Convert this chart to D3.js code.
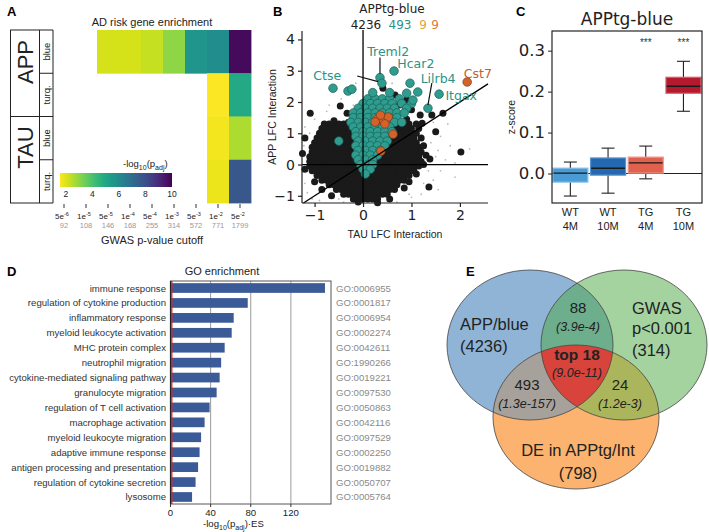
<!DOCTYPE html>
<html><head><meta charset="utf-8">
<script src="https://cdn.jsdelivr.net/npm/d3@7"></script>
<style>body{margin:0;background:#fff}svg{display:block}</style>
</head><body>
<svg id="c" width="709" height="532"></svg>
<script>
// ---------------- DATA ----------------
// Panel A
const heatRows = ["APP blue","APP turq.","TAU blue","TAU turq."];
const heatCutoffs = ["5e-6","1e-5","5e-5","1e-4","5e-4","1e-3","5e-3","1e-2","5e-2"];
const heatCounts = [92,108,146,168,255,314,572,771,1799];
const heatAppBlue = [null,null,2.1,2.1,2.3,3.0,5.6,5.9,9.8];
const heatAppTurq = [null,null,null,null,null,null,null,1.6,4.9];
const heatTauBlue = [null,null,null,null,null,null,null,1.7,2.6];
const heatTauTurq = [null,null,null,null,null,null,null,1.8,7.7];
const colorbarTicks = [2,4,6,8,10];
// Panel B (TAU LFC, APP LFC)
const blackRows = [
 [1.3,[-0.8,-0.7,-0.6,-0.5,-0.4,0.65,0.75,0.85,0.95]],
 [1.15,[-0.85,-0.75,-0.65,-0.55,-0.45,-0.35,-0.25,0.6,0.7,0.8,0.9,1.0]],
 [1.0,[-0.9,-0.8,-0.7,-0.6,-0.5,-0.4,-0.3,-0.2,0.5,0.6,0.7,0.8,0.9,1.0,1.1]],
 [0.85,[-0.95,-0.85,-0.75,-0.65,-0.55,-0.45,-0.35,-0.25,-0.15,0.45,0.55,0.65,0.75,0.85,0.95,1.05]],
 [0.7,[-1.0,-0.9,-0.8,-0.7,-0.6,-0.5,-0.4,-0.3,-0.2,-0.1,0.4,0.5,0.6,0.7,0.8,0.9,1.0,1.1]],
 [0.55,[-1.05,-0.95,-0.85,-0.75,-0.65,-0.55,-0.45,-0.35,-0.25,-0.15,0.35,0.45,0.55,0.65,0.75,0.85,0.95,1.05,1.15]],
 [0.4,[-1.05,-0.95,-0.85,-0.75,-0.65,-0.55,-0.45,-0.35,-0.25,-0.15,0.3,0.4,0.5,0.6,0.7,0.8,0.9,1.0,1.1,1.2]],
 [0.25,[-1.1,-1.0,-0.9,-0.8,-0.7,-0.6,-0.5,-0.4,-0.3,-0.2,0.25,0.35,0.45,0.55,0.65,0.75,0.85,0.95,1.05,1.15]],
 [0.1,[-1.1,-1.0,-0.9,-0.8,-0.7,-0.6,-0.5,-0.4,-0.3,-0.2,0.2,0.3,0.4,0.5,0.6,0.7,0.8,0.9,1.0,1.1,1.2]],
 [-0.05,[-1.1,-1.0,-0.9,-0.8,-0.7,-0.6,-0.5,-0.4,-0.3,-0.2,-0.1,0.25,0.35,0.45,0.55,0.65,0.75,0.85,0.95,1.05,1.15]],
 [-0.2,[-1.05,-0.95,-0.85,-0.75,-0.65,-0.55,-0.45,-0.35,-0.25,-0.15,-0.05,0.05,0.15,0.25,0.35,0.45,0.55,0.65,0.75,0.85,0.95,1.05]],
 [-0.35,[-0.95,-0.85,-0.75,-0.65,-0.55,-0.45,-0.35,-0.25,-0.15,-0.05,0.05,0.15,0.25,0.35,0.45,0.55,0.65,0.75,0.85,0.95]],
 [-0.5,[-0.85,-0.75,-0.65,-0.55,-0.45,-0.35,-0.25,-0.15,-0.05,0.05,0.15,0.25,0.35,0.45,0.55,0.65,0.75,0.85]],
 [-0.65,[-0.7,-0.6,-0.5,-0.4,-0.3,-0.2,-0.1,0.0,0.1,0.2,0.3,0.4,0.5,0.6,0.7]],
 [-0.8,[-0.55,-0.45,-0.35,-0.25,-0.15,-0.05,0.05,0.15,0.25,0.35,0.45,0.55,0.65]],
 [-0.95,[-0.4,-0.3,-0.2,-0.1,0.0,0.1,0.2,0.3,0.4,0.5]],
 [-1.1,[-0.2,-0.1,0.0,0.1,0.2,0.3]]
];
const blackScatter = [[-1.09,1.64],[-0.47,1.87],[-0.33,1.64],[-0.82,1.17],[-1.2,0.85],[-1.25,0.35],[-1.2,-0.15],[-1.0,-0.55],[-0.85,-0.8],[-0.65,-1.0],[0.55,-1.1],[0.85,-0.75],[0.95,-0.55],[1.1,-0.3],[1.25,0.0],[1.3,0.3],[1.25,0.6],[1.2,0.85],[1.15,1.15],[1.1,1.3],[0.41,2.44],[0.66,2.22],[0.9,2.06],[0.75,1.9],[1.0,1.75],[1.18,1.58],[1.42,1.58],[1.65,1.64],[1.22,1.32],[1.38,0.18],[1.36,-0.72],[2.02,0.4],[1.5,1.05],[-0.6,1.4],[-0.3,1.35],[0.6,1.45],[0.9,1.45],[0.3,-1.22],[-0.1,-1.2]];
const greyPts = [[-1.15,-0.9],[-1.05,-1.1],[-0.9,-1.15],[-1.2,1.2],[-1.0,1.45],[-0.75,1.7],[-0.9,0.2],[-0.4,-1.2],[0.7,-1.2],[1.0,-1.05],[1.2,-0.95],[1.45,-0.5],[1.6,-0.2],[1.7,0.15],[1.55,0.45],[1.8,0.6],[1.6,0.9],[1.75,1.3],[1.45,1.35],[1.3,1.7],[0.9,1.65],[1.9,0.05],[2.2,0.5],[1.5,0.25],[1.4,0.7],[1.35,-0.2],[0.95,-0.95],[-0.5,-1.1],[-1.2,-0.6],[-1.22,0.6],[-1.1,1.0],[-0.7,1.9],[-0.2,1.9],[-0.45,2.1],[1.25,-0.6],[1.9,-0.4],[1.55,-0.8],[0.6,2.6],[-0.15,2.6],[1.05,0.1]];
const tealRows = [
 [2.1,[0.1,0.25,0.4,0.55,0.75]],
 [1.95,[0.0,0.15,0.3,0.45,0.6,0.8,1.0]],
 [1.8,[-0.1,0.05,0.2,0.35,0.5,0.65,0.9]],
 [1.65,[-0.2,-0.05,0.1,0.25,0.4,0.55,0.7,0.85]],
 [1.5,[-0.2,-0.05,0.1,0.25,0.4,0.55,0.7]],
 [1.35,[-0.25,-0.1,0.05,0.2,0.35,0.5,0.65,0.8]],
 [1.2,[-0.2,-0.05,0.1,0.25,0.4,0.55]],
 [1.05,[-0.15,0.0,0.15,0.3,0.45,0.6]],
 [0.9,[-0.15,0.0,0.15,0.3,0.45]],
 [0.75,[-0.1,0.05,0.2,0.35,0.5]],
 [0.6,[-0.15,0.0,0.15,0.3,0.45]],
 [0.45,[-0.1,0.05,0.2,0.35]],
 [0.3,[-0.15,0.0,0.15,0.3]],
 [0.15,[-0.1,0.05,0.2]],
 [0.0,[-0.05,0.1,0.2]],
 [-0.15,[0.0,0.15]],
 [-0.3,[0.05]]
];
const tealScatter = [[-0.62,2.44],[-0.31,2.35],[-0.23,2.41],[0.35,2.78],[0.39,2.6],[0.64,2.99],[0.97,2.6],[1.57,2.25],[1.34,1.8],[1.13,2.32],[1.03,2.06],[0.9,2.28],[0.55,2.3],[-0.5,0.75],[0.2,2.3]];
const orangePts = [[0.31,1.48],[0.41,1.42],[0.52,1.52],[0.25,1.36],[0.62,0.97],[0.37,0.43],[0.45,1.3],[0.36,1.58],[2.15,2.64]];
const geneLabels = [
 {name:"Treml2", px:0.35, py:2.78, lx:0.52, ly:3.62, anchor:"middle", col:"teal", lead:[[0.35,3.42],[0.35,2.9]]},
 {name:"Ctse", px:0.39, py:2.6, lx:-0.74, ly:2.84, anchor:"middle", col:"teal", lead:[[-0.12,2.83],[0.31,2.65]]},
 {name:"Hcar2", px:0.97, py:2.6, lx:1.09, ly:3.24, anchor:"middle", col:"teal", lead:null},
 {name:"Lilrb4", px:1.34, py:1.8, lx:1.55, ly:2.76, anchor:"middle", col:"teal", lead:[[1.42,2.6],[1.34,1.9]]},
 {name:"Itgax", px:1.57, py:2.25, lx:1.7, ly:2.2, anchor:"start", col:"teal", lead:null},
 {name:"Cst7", px:2.15, py:2.64, lx:2.37, ly:2.92, anchor:"middle", col:"orange", lead:null}
];
const countLabels = [["4236","#222"],["493","#2a9486"],["9","#e6a23c"],["9","#e07b35"]];
// Panel C
const boxGroups = ["WT 4M","WT 10M","TG 4M","TG 10M"];
const boxQ1 = [-0.021,-0.004,0.001,0.196];
const boxMed = [0.001,0.013,0.026,0.213];
const boxQ3 = [0.013,0.038,0.040,0.235];
const boxLo = [-0.055,-0.048,-0.013,0.152];
const boxHi = [0.028,0.062,0.067,0.274];
const boxSig = ["","","***","***"];
const boxFill = ["#4a9ad4","#2468b2","#e0614d","#b5192e"];
const boxEdge = ["#86bde6","#5c93cc","#f0968a","#d4606d"];
// Panel D
const goTerms = ["immune response","regulation of cytokine production","inflammatory response","myeloid leukocyte activation","MHC protein complex","neutrophil migration","cytokine-mediated signaling pathway","granulocyte migration","regulation of T cell activation","macrophage activation","myeloid leukocyte migration","adaptive immune response","antigen processing and presentation","regulation of cytokine secretion","lysosome"];
const goIds = ["GO:0006955","GO:0001817","GO:0006954","GO:0002274","GO:0042611","GO:1990266","GO:0019221","GO:0097530","GO:0050863","GO:0042116","GO:0097529","GO:0002250","GO:0019882","GO:0050707","GO:0005764"];
const goScores = [154,77,63,61,54,50.5,49,46,39,34,30.5,29,27.5,25,21.5];
const goTicks = [0,40,80,120];
const goThreshold = 1.3;
// Panel E
const vennSets = [["APP/blue","(4236)"],["GWAS","p<0.001","(314)"],["DE in APPtg/Int","(798)"]];
const vennPairs = [["88","(3.9e-4)"],["493","(1.3e-157)"],["24","(1.2e-3)"]];
const vennCenter = ["top 18","(9.0e-11)"];

// ---------------- DRAW ----------------
const svg = d3.select("#c");
svg.append("rect").attr("width",709).attr("height",532).attr("fill","#fff");
const SANS = "'Liberation Sans', Arial, sans-serif";
const DJ = "'DejaVu Sans', sans-serif";
const defs = svg.append("defs");

function txt(g,s,x,y,o={}){
  const t=g.append("text").attr("x",x).attr("y",y).attr("font-family",o.ff||SANS)
   .attr("font-size",o.fs||11).attr("fill",o.fill||"#222").attr("text-anchor",o.anchor||"start");
  if(o.fw) t.attr("font-weight",o.fw);
  if(o.fst) t.attr("font-style",o.fst);
  if(o.rot!=null) t.attr("transform",`rotate(${o.rot},${x},${y})`);
  if(o.db) t.attr("dominant-baseline",o.db);
  t.text(s); return t;
}
[["A",7,16],["B",273,16],["C",516,16],["D",7,276],["E",466,276]].forEach(d=>txt(svg,d[0],d[1],d[2],{fs:13,fw:"bold",fill:"#000"}));

// ===== Panel A =====
const gA = svg.append("g");
const hx = d3.scaleBand().domain(heatCutoffs).range([53,251]);
const hy = d3.scaleBand().domain(heatRows).range([30,203]);
const heatVals = [heatAppBlue,heatAppTurq,heatTauBlue,heatTauTurq];
const vmin=1.55, vmax=10;
const hcol = v => d3.interpolateViridis(1-(v-vmin)/(vmax-vmin));
heatRows.forEach((r,i)=>heatVals[i].forEach((v,j)=>{
  if(v==null) return;
  gA.append("rect").attr("x",hx(heatCutoffs[j])).attr("y",hy(r))
    .attr("width",hx.bandwidth()+0.4).attr("height",hy.bandwidth()+0.4).attr("fill",hcol(v));
}));
txt(gA,"AD risk gene enrichment",152,26,{fs:11,anchor:"middle"});
const ln=(g,x1,y1,x2,y2,c="#222",w=1)=>g.append("line").attr("x1",x1).attr("y1",y1).attr("x2",x2).attr("y2",y2).attr("stroke",c).attr("stroke-width",w);
[10.5,39.5,53].forEach(x=>ln(gA,x,30,x,203));
[30,hy("TAU blue"),203].forEach(y=>ln(gA,10,y,53,y));
[hy("APP turq."),hy("TAU turq.")].forEach(y=>ln(gA,39.5,y,53,y));
txt(gA,"APP",33,hy("APP blue")+32,{fs:22,anchor:"middle",rot:-90});
txt(gA,"TAU",33,hy("TAU blue")+31,{fs:22,anchor:"middle",rot:-90});
heatRows.forEach(r=>txt(gA,r.split(" ")[1],50,hy(r)+hy.bandwidth()/2,{fs:9.5,anchor:"middle",rot:-90}));
const cb = d3.scaleLinear().domain([vmin,vmax]).range([60,172]);
const grad = defs.append("linearGradient").attr("id","vir").attr("x1","0").attr("x2","1").attr("y1","0").attr("y2","0");
d3.range(0,1.0001,0.05).forEach(t=>grad.append("stop").attr("offset",t).attr("stop-color",hcol(vmin+t*(vmax-vmin))));
gA.append("rect").attr("x",cb(vmin)).attr("y",173).attr("width",cb(vmax)-cb(vmin)).attr("height",14).attr("fill","url(#vir)");
colorbarTicks.forEach(v=>txt(gA,v,cb(v),197,{fs:8.5,anchor:"middle"}));
{const t=txt(gA,"-log",123,167,{fs:9.5});
 t.append("tspan").attr("dy",2.5).attr("font-size",7).text("10");
 t.append("tspan").attr("dy",-2.5).text("(p");
 t.append("tspan").attr("dy",2.5).attr("font-size",7).text("adj");
 t.append("tspan").attr("dy",-2.5).text(")");}
heatCutoffs.forEach((c,j)=>{
  const x=hx(c)+hx.bandwidth()/2;
  ln(gA,x,204,x,208,"#333");
  const p=c.split("e");
  const t=txt(gA,p[0]+"e",x-2,219,{fs:8,anchor:"middle"});
  t.append("tspan").attr("dy",-3.5).attr("font-size",5.5).text(p[1]);
  txt(gA,heatCounts[j],x,228,{fs:7.5,anchor:"middle",fill:"#999"});
});
txt(gA,"GWAS p-value cutoff",152,244,{fs:11,anchor:"middle"});

// ===== Panel B =====
const gB = svg.append("g");
const bx = d3.scaleLinear().domain([-1.26,2.58]).range([302,488]);
const by = d3.scaleLinear().domain([-1.23,4.27]).range([203,31]);
const blackPts = blackRows.flatMap(r=>r[1].map(x=>[x,r[0]])).concat(blackScatter);
const tealPts = tealRows.flatMap(r=>r[1].map(x=>[x,r[0]])).concat(tealScatter);
gB.selectAll(".gp").data(greyPts).join("circle").attr("cx",d=>bx(d[0])).attr("cy",d=>by(d[1])).attr("r",0.9).attr("fill","#bbb");
gB.selectAll(".bp").data(blackPts).join("circle").attr("cx",d=>bx(d[0])).attr("cy",d=>by(d[1])).attr("r",3.5).attr("fill","#1a1a1a");
gB.selectAll(".tp").data(tealPts).join("circle").attr("cx",d=>bx(d[0])).attr("cy",d=>by(d[1])).attr("r",4.3).attr("fill","#2e9c8e").attr("stroke","#1c5f57").attr("stroke-width",0.7);
gB.selectAll(".op").data(orangePts).join("circle").attr("cx",d=>bx(d[0])).attr("cy",d=>by(d[1])).attr("r",4.3).attr("fill","#d4632b").attr("stroke","#7d3512").attr("stroke-width",0.7);
ln(gB,bx(-1.26),by(0),bx(2.58),by(0),"#000",1.3);
ln(gB,bx(0),by(4.27)-1,bx(0),by(-1.23),"#000",1.3);
ln(gB,bx(-1.23),by(-1.23),bx(2.58),by(2.58),"#000",1.3);
const intFmt = d3.format("d");
const axL = gB.append("g").attr("transform","translate(302,0)").call(d3.axisLeft(by).tickValues([-1,0,1,2,3,4]).tickFormat(intFmt).tickSize(4).tickSizeOuter(0));
const axB = gB.append("g").attr("transform","translate(0,203)").call(d3.axisBottom(bx).tickValues([-1,0,1,2]).tickFormat(intFmt).tickSize(4).tickSizeOuter(0));
[axL,axB].forEach(a=>{a.selectAll("text").attr("font-family",DJ).attr("font-size",14).attr("fill","#222");a.selectAll("path,line").attr("stroke","#222").attr("stroke-width",1.2);});
axL.select(".domain").attr("d","M0,31V203");
axB.select(".domain").attr("d","M302,0H488");
txt(gB,"TAU LFC Interaction",395,238,{fs:10.5,anchor:"middle"});
txt(gB,"APP LFC Interaction",276,117,{fs:10.5,anchor:"middle",rot:-90});
txt(gB,"APPtg-blue",392,13,{ff:DJ,fs:12,anchor:"middle"});
{const xs=[366,400,423,435]; countLabels.forEach((c,i)=>txt(gB,c[0],xs[i],29,{ff:DJ,fs:12,anchor:"middle",fill:c[1]}));}
geneLabels.forEach(g=>{
  const col = g.col==="teal"?"#2a9486":"#c45f2a";
  txt(gB,g.name,bx(g.lx),by(g.ly),{ff:DJ,fs:12.5,anchor:g.anchor,fill:col,db:"central"});
  if(g.lead) ln(gB,bx(g.lead[0][0]),by(g.lead[0][1]),bx(g.lead[1][0]),by(g.lead[1][1]),"#111",1.2);
});

// ===== Panel C =====
const gC = svg.append("g");
const cx = d3.scalePoint().domain(boxGroups).range([551.5,702.3]).padding(0.5);
const cy = d3.scaleLinear().domain([-0.072,0.348]).range([203,31]);
ln(gC,552,cy(0),702,cy(0),"#222",1);
const bw=35, cw=13;
boxGroups.forEach((g,i)=>{
  const x=cx(g);
  ln(gC,x,cy(boxLo[i]),x,cy(boxHi[i]),"#222",1.1);
  ln(gC,x-cw/2,cy(boxLo[i]),x+cw/2,cy(boxLo[i]),"#222",1.1);
  ln(gC,x-cw/2,cy(boxHi[i]),x+cw/2,cy(boxHi[i]),"#222",1.1);
  gC.append("rect").attr("x",x-bw/2).attr("y",cy(boxQ3[i])).attr("width",bw).attr("height",cy(boxQ1[i])-cy(boxQ3[i]))
    .attr("fill",boxFill[i]).attr("stroke",boxEdge[i]).attr("stroke-width",1.2);
  ln(gC,x-bw/2+0.6,cy(boxMed[i]),x+bw/2-0.6,cy(boxMed[i]),"#1a1a1a",1.4);
  if(boxSig[i]) txt(gC,boxSig[i],x,46,{fs:10,anchor:"middle",fill:"#333"});
  const p=g.split(" ");
  txt(gC,p[0],x,216,{fs:11,anchor:"middle"});
  txt(gC,p[1],x,230,{fs:11,anchor:"middle"});
});
gC.append("rect").attr("x",552).attr("y",31).attr("width",150).attr("height",172).attr("fill","none").attr("stroke","#111").attr("stroke-width",1.1);
const axC = gC.append("g").attr("transform","translate(552,0)").call(d3.axisLeft(cy).tickValues([0,0.1,0.2,0.3]).tickFormat(d3.format(".1f")).tickSize(4).tickSizeOuter(0));
axC.select(".domain").remove();
axC.selectAll("text").attr("font-family",DJ).attr("font-size",16.5).attr("fill","#222");
axC.selectAll("line").attr("stroke","#222");
txt(gC,"z-score",515,117,{fs:10.5,anchor:"middle",rot:-90});
txt(gC,"APPtg-blue",627,25,{ff:DJ,fs:17,anchor:"middle"});

// ===== Panel D =====
const gD = svg.append("g");
const dx = d3.scaleLinear().domain([0,160]).range([170.5,331]);
const dy = d3.scaleBand().domain(goTerms).range([281,504]).paddingInner(0.35).paddingOuter(0.145);
txt(gD,"GO enrichment",222,275,{fs:11,anchor:"middle"});
goTicks.slice(1).forEach(v=>ln(gD,dx(v),281,dx(v),504,"#9a9a9a",1));
gD.selectAll(".bar").data(goTerms).join("rect").attr("x",dx(0)).attr("y",d=>dy(d)).attr("width",(d,i)=>dx(goScores[i])-dx(0))
  .attr("height",dy.bandwidth()).attr("fill","#3b5b98");
ln(gD,dx(goThreshold),281,dx(goThreshold),504,"#e3242b",1.3);
gD.append("rect").attr("x",dx(0)).attr("y",281).attr("width",dx(160)-dx(0)).attr("height",223).attr("fill","none").attr("stroke","#555").attr("stroke-width",1);
ln(gD,dx(0),281,dx(0),504,"#222",1.2);
goTerms.forEach((t,i)=>{
  txt(gD,t,166,dy(t)+dy.bandwidth()/2,{fs:9.6,anchor:"end",fill:"#333",db:"central"});
  txt(gD,goIds[i],336,dy(t)+dy.bandwidth()/2,{fs:9.6,fill:"#8a8a8a",db:"central"});
});
goTicks.forEach(v=>{ln(gD,dx(v),504,dx(v),507,"#333");txt(gD,v,dx(v),516,{fs:9.6,anchor:"middle"});});
{const t=txt(gD,"-log",203,527,{fs:9.6});
 t.append("tspan").attr("dy",2.5).attr("font-size",7).text("10");
 t.append("tspan").attr("dy",-2.5).text("(p");
 t.append("tspan").attr("dy",2.5).attr("font-size",7).text("adj");
 t.append("tspan").attr("dy",-2.5).text(")·ES");}

// ===== Panel E =====
const gE = svg.append("g");
const ell = [{cx:530,cy:345,rx:83,ry:75},{cx:624,cy:345,rx:83,ry:75},{cx:576,cy:417,rx:83,ry:72}];
const baseCol = ["#8fb4d6","#a4d3a0","#fbb36f"];
ell.forEach((e,i)=>{
  defs.append("clipPath").attr("id","ve"+i).append("ellipse").attr("cx",e.cx).attr("cy",e.cy).attr("rx",e.rx).attr("ry",e.ry);
  gE.append("ellipse").attr("cx",e.cx).attr("cy",e.cy).attr("rx",e.rx).attr("ry",e.ry).attr("fill",baseCol[i]);
});
const drawE=(g,i,c)=>g.append("ellipse").attr("cx",ell[i].cx).attr("cy",ell[i].cy).attr("rx",ell[i].rx).attr("ry",ell[i].ry).attr("fill",c);
drawE(gE.append("g").attr("clip-path","url(#ve0)"),1,"#6dae8d");
drawE(gE.append("g").attr("clip-path","url(#ve0)"),2,"#a7a19b");
drawE(gE.append("g").attr("clip-path","url(#ve1)"),2,"#abb65c");
drawE(gE.append("g").attr("clip-path","url(#ve0)").append("g").attr("clip-path","url(#ve1)"),2,"#d8443b");
ell.forEach(e=>gE.append("ellipse").attr("cx",e.cx).attr("cy",e.cy).attr("rx",e.rx).attr("ry",e.ry).attr("fill","none").attr("stroke","#444").attr("stroke-width",0.8));
const eo={fs:16.5,fill:"#222"};
txt(gE,vennSets[0][0],460,330,eo); txt(gE,vennSets[0][1],460,352,eo);
txt(gE,vennSets[1][0],632,314,eo); txt(gE,vennSets[1][1],632,334,eo); txt(gE,vennSets[1][2],632,356,eo);
txt(gE,vennSets[2][0],578,456,{...eo,anchor:"middle"}); txt(gE,vennSets[2][1],578,479,{...eo,anchor:"middle"});
const pairPos=[[578,308],[527,385],[620,385]];
vennPairs.forEach((p,i)=>{
  txt(gE,p[0],pairPos[i][0],pairPos[i][1]+5,{fs:15,anchor:"middle"});
  txt(gE,p[1],pairPos[i][0],pairPos[i][1]+23,{fs:12.5,anchor:"middle",fst:"italic"});
});
txt(gE,vennCenter[0],577,360,{fs:15.5,anchor:"middle",fw:"bold"});
txt(gE,vennCenter[1],577,377,{fs:12.5,anchor:"middle",fst:"italic"});
</script>
</body></html>
